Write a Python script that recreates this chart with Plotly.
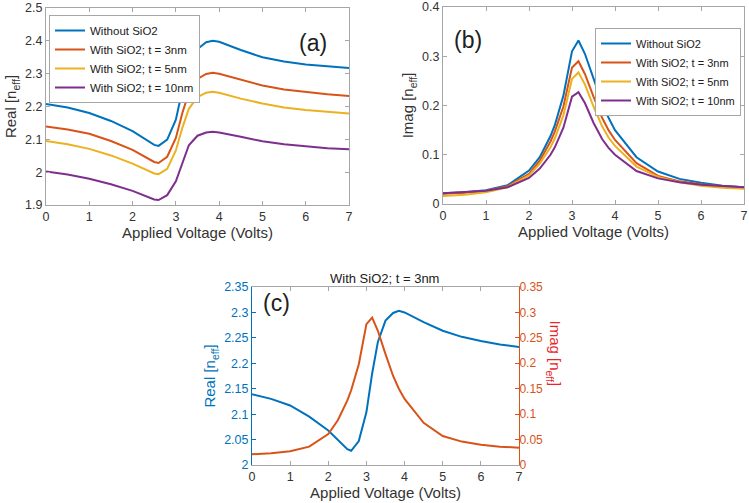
import plotly.graph_objects as go

# voltages (Volts)
volts = [0, 0.5, 1, 1.5, 2, 2.25, 2.5, 2.6, 2.8, 3.0, 3.15, 3.3, 3.5, 3.7, 3.85, 4.0,
         4.5, 5, 5.5, 6, 6.5, 7]

# Real part of n_eff
real_none = [2.208, 2.197, 2.180, 2.156, 2.125, 2.104, 2.083, 2.080, 2.099, 2.160, 2.250,
             2.325, 2.375, 2.396, 2.400, 2.397, 2.372, 2.350, 2.337, 2.328, 2.322, 2.317]
real_3nm = [2.139, 2.130, 2.117, 2.095, 2.068, 2.050, 2.031, 2.028, 2.047, 2.104, 2.180,
            2.242, 2.284, 2.299, 2.303, 2.300, 2.281, 2.264, 2.252, 2.244, 2.237, 2.232]
real_5nm = [2.095, 2.085, 2.071, 2.051, 2.026, 2.011, 1.996, 1.994, 2.010, 2.066, 2.135,
            2.193, 2.229, 2.242, 2.245, 2.242, 2.224, 2.209, 2.197, 2.189, 2.183, 2.179]
real_10nm = [2.002, 1.993, 1.980, 1.963, 1.943, 1.930, 1.917, 1.915, 1.930, 1.972, 2.030,
             2.082, 2.111, 2.121, 2.123, 2.121, 2.108, 2.094, 2.085, 2.078, 2.073, 2.070]

# Imaginary part of n_eff
imag_none = [0.022, 0.024, 0.028, 0.038, 0.068, 0.095, 0.138, 0.160, 0.220, 0.310, 0.332,
             0.305, 0.255, 0.205, 0.175, 0.150, 0.095, 0.066, 0.051, 0.043, 0.037, 0.034]
imag_3nm = [0.021, 0.023, 0.027, 0.036, 0.061, 0.088, 0.127, 0.147, 0.198, 0.277, 0.290,
            0.264, 0.218, 0.175, 0.150, 0.130, 0.083, 0.057, 0.046, 0.040, 0.036, 0.034]
imag_5nm = [0.016, 0.019, 0.024, 0.034, 0.058, 0.082, 0.115, 0.133, 0.180, 0.254, 0.267,
            0.243, 0.198, 0.158, 0.135, 0.118, 0.076, 0.055, 0.044, 0.037, 0.033, 0.031]
imag_10nm = [0.022, 0.024, 0.027, 0.034, 0.053, 0.072, 0.100, 0.115, 0.155, 0.218, 0.227,
             0.205, 0.165, 0.132, 0.114, 0.100, 0.067, 0.052, 0.044, 0.039, 0.036, 0.034]

names = ["Without SiO2", "With SiO2; t = 3nm", "With SiO2; t = 5nm", "With SiO2; t = 10nm"]
colors = ["#0072BD", "#D95319", "#EDB120", "#7E2F8E"]

FONT = "Liberation Sans, Arial, sans-serif"
GRAY = "#a6a6a6"
TXT = "#333333"

fig = go.Figure()

for name, col, ys in zip(names, colors, [real_none, real_3nm, real_5nm, real_10nm]):
    fig.add_trace(go.Scatter(x=volts, y=ys, name=name, mode="lines",
                             line=dict(color=col, width=2), xaxis="x", yaxis="y",
                             legend="legend"))
for name, col, ys in zip(names, colors, [imag_none, imag_3nm, imag_5nm, imag_10nm]):
    fig.add_trace(go.Scatter(x=volts, y=ys, name=name, mode="lines",
                             line=dict(color=col, width=2), xaxis="x2", yaxis="y2",
                             legend="legend2"))

# panel (c)
fig.add_trace(go.Scatter(x=volts, y=real_3nm, mode="lines", showlegend=False,
                         line=dict(color="#0072BD", width=2), xaxis="x3", yaxis="y3"))
fig.add_trace(go.Scatter(x=volts, y=imag_3nm, mode="lines", showlegend=False,
                         line=dict(color="#D95319", width=2), xaxis="x3", yaxis="y4"))

W, H = 749, 503


def dx(a, b):
    return [a / W, b / W]


def dy(top, bot):
    return [1 - bot / H, 1 - top / H]


tick = dict(size=12.5, family=FONT, color=TXT)
common = dict(showline=True, linecolor=GRAY, linewidth=1, ticks="inside", ticklen=4,
              tickcolor=GRAY, showgrid=False, zeroline=False, tickfont=tick,
              ticklabeloverflow="allow")
xcommon = dict(common, range=[0, 7], dtick=1, mirror="ticks",
               title=dict(text="Applied Voltage (Volts)", font=dict(size=15, family=FONT, color=TXT),
                          standoff=2))
ytitle = dict(size=15, family=FONT, color=TXT)

fig.update_layout(
    width=W, height=H,
    margin=dict(l=0, r=0, t=0, b=0, autoexpand=False),
    paper_bgcolor="white", plot_bgcolor="white",
    font=dict(family=FONT, color=TXT),
    xaxis=dict(xcommon, domain=dx(46, 349), anchor="y"),
    yaxis=dict(common, domain=dy(8, 205), anchor="x", range=[1.9, 2.5], dtick=0.1, mirror="ticks",
               title=dict(text="Real [n<sub>eff</sub>]", font=ytitle, standoff=4)),
    xaxis2=dict(xcommon, domain=dx(443, 744), anchor="y2"),
    yaxis2=dict(common, domain=dy(7, 204), anchor="x2", range=[0, 0.4], dtick=0.1, mirror="ticks",
                title=dict(text="Imag [n<sub>eff</sub>]", font=ytitle, standoff=4)),
    xaxis3=dict(xcommon, domain=dx(252, 519), anchor="y3"),
    yaxis3=dict(common, domain=dy(287, 465), anchor="x3", range=[2, 2.35], dtick=0.05,
                linecolor="#0072BD", tickcolor="#0072BD",
                tickfont=dict(size=12.5, family=FONT, color="#0072BD"),
                title=dict(text="Real [n<sub>eff</sub>]", font=dict(ytitle, color="#0072BD"),
                           standoff=4)),
    yaxis4=dict(common, overlaying="y3", side="right", anchor="x3", range=[0, 0.35], dtick=0.05,
                linecolor="#D95319", tickcolor="#D95319", ticklabelstandoff=-3,
                tickfont=dict(size=12, family=FONT, color="#D95319")),
    legend=dict(x=49 / W, y=1 - 15 / H, xanchor="left", yanchor="top",
                bgcolor="white", bordercolor=GRAY, borderwidth=1,
                font=dict(size=11.5, family=FONT, color="#202020"),
                tracegroupgap=0, itemwidth=30, traceorder="normal"),
    legend2=dict(x=741 / W, y=1 - 28 / H, xanchor="right", yanchor="top",
                 bgcolor="white", bordercolor=GRAY, borderwidth=1,
                 font=dict(size=11, family=FONT, color="#202020"),
                 tracegroupgap=0, itemwidth=30, traceorder="normal"),
    annotations=[
        dict(text="(a)", x=313 / W, y=1 - 28 / H, xref="paper", yref="paper", showarrow=False,
             font=dict(size=23, family=FONT, color="#202020")),
        dict(text="(b)", x=468 / W, y=1 - 25 / H, xref="paper", yref="paper", showarrow=False,
             font=dict(size=23, family=FONT, color="#202020")),
        dict(text="(c)", x=276 / W, y=1 - 303 / H, xref="paper", yref="paper", showarrow=False,
             font=dict(size=23, family=FONT, color="#202020")),
        dict(text="With SiO2; t = 3nm", x=385 / W, y=1 - 278 / H, xref="paper", yref="paper",
             showarrow=False, font=dict(size=13, family=FONT, color="#202020")),
        dict(text="Imag [n<sub>eff</sub>]", x=566 / W, y=1 - 388 / H, xref="paper", yref="paper",
             showarrow=False, textangle=90, font=dict(size=15, family=FONT, color="#E8262A")),
    ],
)

# the page's default body margin would shift the figure by 8px
fig.write_html("out.html", config={"displayModeBar": False},
               post_script="document.body.style.margin = '0';")
